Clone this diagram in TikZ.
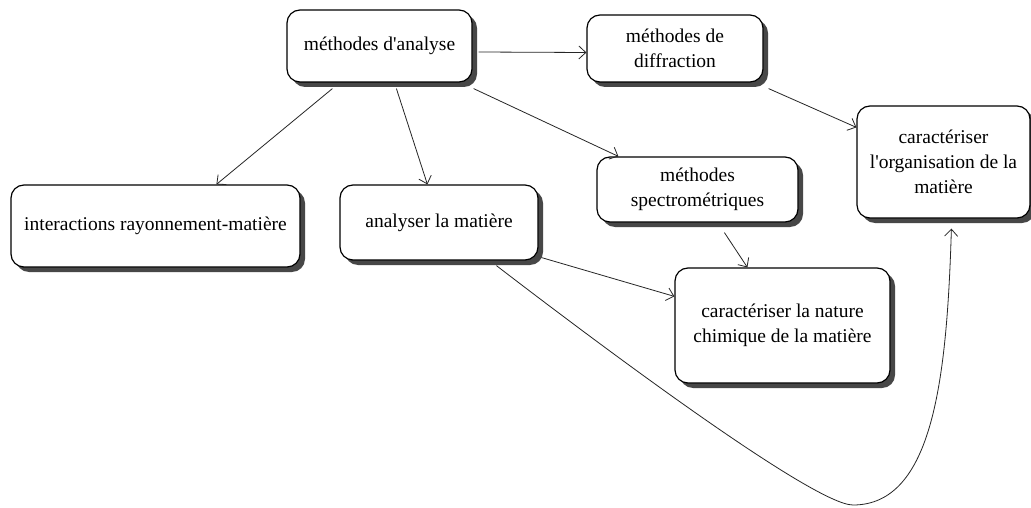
\documentclass[tikz,border=0pt]{standalone}
\usepackage{fontspec}
\setmainfont{Liberation Serif}
\usepackage{tikz}
\usetikzlibrary{arrows.meta,shadows}

\begin{document}
\begin{tikzpicture}[
    x=1pt, y=-1pt,
    font=\fontsize{19.5}{25}\selectfont,
    box/.style={
        rectangle,
        rounded corners=13pt,
        draw=black,
        fill=white,
        line width=1.2pt,
        align=center,
        inner sep=0pt,
        drop shadow={shadow xshift=5pt, shadow yshift=-5pt, fill=black!72, opacity=1}
    },
    arrow/.style={
        -{Straight Barb[length=7pt,width=13pt,line width=0.8pt]},
        draw=black!85,
        line width=0.8pt
    }
]

\useasboundingbox[fill=white] (0,0) rectangle (1031,508);

\node[box, minimum width=185pt, minimum height=72pt] (analyse) at (379.5,46) {méthodes d\textquotesingle analyse};
\node[box, minimum width=176pt, minimum height=67pt] (diffraction) at (675,48.5) {méthodes de\\diffraction};
\node[box, minimum width=173pt, minimum height=112pt] (organisation) at (943.5,162) {caractériser\\l\textquotesingle organisation de la\\matière};
\node[box, minimum width=289pt, minimum height=82pt] (interactions) at (155.5,226) {interactions rayonnement-matière};
\node[box, minimum width=198pt, minimum height=75pt] (analyser) at (439,222.5) {analyser la matière};
\node[box, minimum width=201pt, minimum height=65pt] (spectro) at (697.5,189.5) {méthodes\\spectrométriques};
\node[box, minimum width=215pt, minimum height=115pt] (nature) at (782.5,325.5) {caractériser la nature\\chimique de la matière};

\coordinate (bend) at (853,505);

\draw[arrow] ([xshift=6pt,yshift=-6pt]analyse.east) -- ([yshift=-4pt]diffraction.west);
\draw[arrow] ([xshift=46pt,yshift=-6pt]analyse.south west) -- ([xshift=206pt]interactions.north west);
\draw[arrow] ([xshift=110pt,yshift=-6pt]analyse.south west) -- ([xshift=88pt]analyser.north west);
\draw[arrow] ([xshift=1pt,yshift=-6pt]analyse.south east) -- ([xshift=22pt]spectro.north west);
\draw[arrow] ([xshift=5pt,yshift=-6pt]diffraction.south east) -- ([yshift=-22pt]organisation.north west);
\draw[arrow] ([xshift=128pt,yshift=-10pt]spectro.south west) -- ([xshift=73pt]nature.north west);
\draw[arrow] ([xshift=3pt,yshift=3pt]analyser.south east) -- ([yshift=-29pt]nature.north west);

\draw[arrow] ([xshift=157pt,yshift=-5pt]analyser.south west)
    .. controls +(95,73) and +(-40,0) .. (bend)
    .. controls +(80,0) and +(-4.5,150) .. ([xshift=95pt,yshift=-10pt]organisation.south west);

\end{tikzpicture}
\end{document}
